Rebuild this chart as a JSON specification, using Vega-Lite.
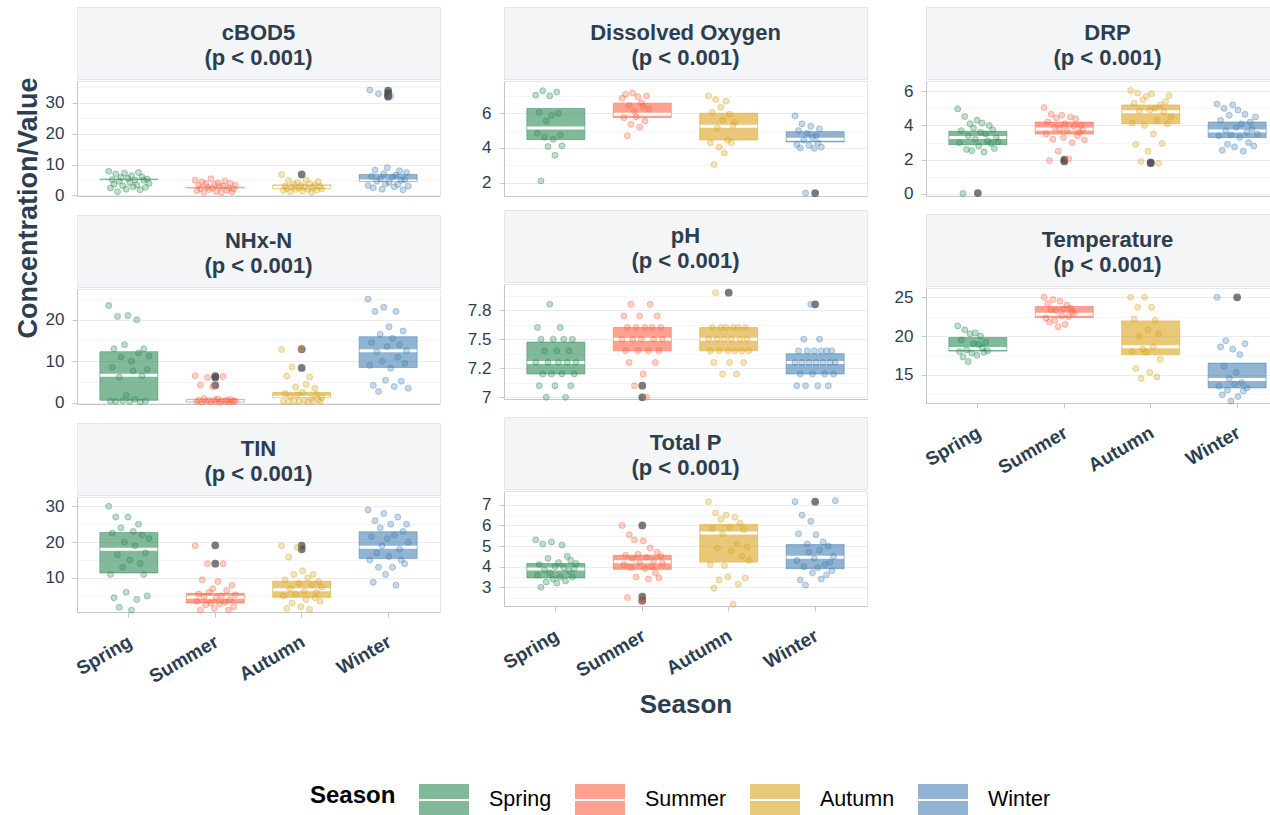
{
"$schema": "https://vega.github.io/schema/vega-lite/v6.json",
"background": "white",
"padding": {"left": 14, "top": 6, "right": 0, "bottom": 0},
"datasets": {
"strips": [
{"p":"cBOD5","t":"cBOD5\n(p < 0.001)"},{"p":"DO","t":"Dissolved Oxygen\n(p < 0.001)"},{"p":"DRP","t":"DRP\n(p < 0.001)"},{"p":"NHx-N","t":"NHx-N\n(p < 0.001)"},{"p":"pH","t":"pH\n(p < 0.001)"},{"p":"Temp","t":"Temperature\n(p < 0.001)"},{"p":"TIN","t":"TIN\n(p < 0.001)"},{"p":"TP","t":"Total P\n(p < 0.001)"}
],
"box": [
{"p":"cBOD5","s":"Spring","q1":5.1,"md":5.2,"q3":5.3},{"p":"cBOD5","s":"Summer","q1":2.4,"md":2.5,"q3":2.6},{"p":"cBOD5","s":"Autumn","q1":2.2,"md":2.6,"q3":3.4},{"p":"cBOD5","s":"Winter","q1":4.5,"md":4.7,"q3":6.8},
{"p":"DO","s":"Spring","q1":4.48,"md":5.15,"q3":6.28},{"p":"DO","s":"Summer","q1":5.75,"md":5.95,"q3":6.58},{"p":"DO","s":"Autumn","q1":4.46,"md":5.25,"q3":6.0},{"p":"DO","s":"Winter","q1":4.35,"md":4.5,"q3":4.94},
{"p":"DRP","s":"Spring","q1":2.88,"md":3.3,"q3":3.66},{"p":"DRP","s":"Summer","q1":3.5,"md":3.8,"q3":4.2},{"p":"DRP","s":"Autumn","q1":4.1,"md":4.8,"q3":5.2},{"p":"DRP","s":"Winter","q1":3.3,"md":3.68,"q3":4.2},
{"p":"NHx-N","s":"Spring","q1":0.6,"md":6.6,"q3":12.3},{"p":"NHx-N","s":"Summer","q1":0.2,"md":0.4,"q3":0.8},{"p":"NHx-N","s":"Autumn","q1":1.2,"md":1.3,"q3":2.5},{"p":"NHx-N","s":"Winter","q1":8.5,"md":12.5,"q3":15.9},
{"p":"pH","s":"Spring","q1":7.2,"md":7.3,"q3":7.475},{"p":"pH","s":"Summer","q1":7.4,"md":7.5,"q3":7.6},{"p":"pH","s":"Autumn","q1":7.4,"md":7.5,"q3":7.6},{"p":"pH","s":"Winter","q1":7.2,"md":7.3,"q3":7.375},
{"p":"Temp","s":"Spring","q1":18.05,"md":18.4,"q3":19.8},{"p":"Temp","s":"Summer","q1":22.4,"md":22.8,"q3":23.8},{"p":"Temp","s":"Autumn","q1":17.6,"md":18.6,"q3":21.95},{"p":"Temp","s":"Winter","q1":13.3,"md":14.4,"q3":16.5},
{"p":"TIN","s":"Spring","q1":11.4,"md":18.0,"q3":22.7},{"p":"TIN","s":"Summer","q1":3.0,"md":4.6,"q3":5.7},{"p":"TIN","s":"Autumn","q1":4.6,"md":6.7,"q3":9.1},{"p":"TIN","s":"Winter","q1":15.4,"md":18.6,"q3":22.9},
{"p":"TP","s":"Spring","q1":3.45,"md":3.88,"q3":4.15},{"p":"TP","s":"Summer","q1":3.87,"md":4.24,"q3":4.55},{"p":"TP","s":"Autumn","q1":4.22,"md":5.63,"q3":6.05},{"p":"TP","s":"Winter","q1":3.9,"md":4.45,"q3":5.07}
],
"out": [
{"p":"cBOD5","s":"Autumn","v":6.8},{"p":"cBOD5","s":"Winter","v":34.0},{"p":"cBOD5","s":"Winter","v":33.2},{"p":"cBOD5","s":"Winter","v":32.4},{"p":"cBOD5","s":"Winter","v":32.0},
{"p":"DO","s":"Winter","v":1.4},
{"p":"DRP","s":"Spring","v":0.05},{"p":"DRP","s":"Summer","v":2.0},{"p":"DRP","s":"Summer","v":1.9},{"p":"DRP","s":"Autumn","v":1.85},{"p":"DRP","s":"Autumn","v":1.8},
{"p":"NHx-N","s":"Summer","v":6.4},{"p":"NHx-N","s":"Summer","v":6.1},{"p":"NHx-N","s":"Summer","v":4.2},{"p":"NHx-N","s":"Autumn","v":12.9},{"p":"NHx-N","s":"Autumn","v":8.4},
{"p":"pH","s":"Summer","v":7.1},{"p":"pH","s":"Summer","v":7.0},{"p":"pH","s":"Autumn","v":7.9},{"p":"pH","s":"Winter","v":7.8},
{"p":"Temp","s":"Winter","v":25.0},
{"p":"TIN","s":"Summer","v":19.1},{"p":"TIN","s":"Summer","v":14.0},{"p":"TIN","s":"Autumn","v":19.0},{"p":"TIN","s":"Autumn","v":18.0},
{"p":"TP","s":"Summer","v":6.0},{"p":"TP","s":"Summer","v":2.55},{"p":"TP","s":"Summer","v":2.35},{"p":"TP","s":"Winter","v":7.15}
],
"pts": [
{"p":"cBOD5","s":"Spring","v":7.8},{"p":"cBOD5","s":"Spring","v":2.4},{"p":"cBOD5","s":"Spring","v":5.1},{"p":"cBOD5","s":"Spring","v":3.6},{"p":"cBOD5","s":"Spring","v":6.9},{"p":"cBOD5","s":"Spring","v":1.2},{"p":"cBOD5","s":"Spring","v":4.6},{"p":"cBOD5","s":"Spring","v":5.8},{"p":"cBOD5","s":"Spring","v":3.1},{"p":"cBOD5","s":"Spring","v":7.2},{"p":"cBOD5","s":"Spring","v":2.0},{"p":"cBOD5","s":"Spring","v":5.5},{"p":"cBOD5","s":"Spring","v":4.2},{"p":"cBOD5","s":"Spring","v":6.4},{"p":"cBOD5","s":"Spring","v":2.8},{"p":"cBOD5","s":"Spring","v":5.0},{"p":"cBOD5","s":"Spring","v":3.4},{"p":"cBOD5","s":"Spring","v":7.4},{"p":"cBOD5","s":"Spring","v":1.8},{"p":"cBOD5","s":"Spring","v":6.0},{"p":"cBOD5","s":"Spring","v":4.9},{"p":"cBOD5","s":"Spring","v":2.6},{"p":"cBOD5","s":"Spring","v":5.3},{"p":"cBOD5","s":"Spring","v":3.9},
{"p":"cBOD5","s":"Summer","v":4.9},{"p":"cBOD5","s":"Summer","v":1.5},{"p":"cBOD5","s":"Summer","v":3.2},{"p":"cBOD5","s":"Summer","v":2.2},{"p":"cBOD5","s":"Summer","v":4.4},{"p":"cBOD5","s":"Summer","v":1.0},{"p":"cBOD5","s":"Summer","v":3.8},{"p":"cBOD5","s":"Summer","v":2.7},{"p":"cBOD5","s":"Summer","v":1.9},{"p":"cBOD5","s":"Summer","v":5.4},{"p":"cBOD5","s":"Summer","v":2.4},{"p":"cBOD5","s":"Summer","v":3.5},{"p":"cBOD5","s":"Summer","v":1.3},{"p":"cBOD5","s":"Summer","v":4.1},{"p":"cBOD5","s":"Summer","v":2.9},{"p":"cBOD5","s":"Summer","v":0.9},{"p":"cBOD5","s":"Summer","v":3.0},{"p":"cBOD5","s":"Summer","v":4.7},{"p":"cBOD5","s":"Summer","v":1.7},{"p":"cBOD5","s":"Summer","v":2.5},{"p":"cBOD5","s":"Summer","v":3.9},{"p":"cBOD5","s":"Summer","v":1.1},{"p":"cBOD5","s":"Summer","v":2.1},{"p":"cBOD5","s":"Summer","v":3.3},
{"p":"cBOD5","s":"Autumn","v":6.8},{"p":"cBOD5","s":"Autumn","v":1.6},{"p":"cBOD5","s":"Autumn","v":3.0},{"p":"cBOD5","s":"Autumn","v":2.2},{"p":"cBOD5","s":"Autumn","v":4.8},{"p":"cBOD5","s":"Autumn","v":1.2},{"p":"cBOD5","s":"Autumn","v":2.6},{"p":"cBOD5","s":"Autumn","v":3.5},{"p":"cBOD5","s":"Autumn","v":1.9},{"p":"cBOD5","s":"Autumn","v":4.2},{"p":"cBOD5","s":"Autumn","v":2.4},{"p":"cBOD5","s":"Autumn","v":3.2},{"p":"cBOD5","s":"Autumn","v":1.4},{"p":"cBOD5","s":"Autumn","v":2.8},{"p":"cBOD5","s":"Autumn","v":5.0},{"p":"cBOD5","s":"Autumn","v":2.0},{"p":"cBOD5","s":"Autumn","v":3.8},{"p":"cBOD5","s":"Autumn","v":1.0},{"p":"cBOD5","s":"Autumn","v":2.5},{"p":"cBOD5","s":"Autumn","v":3.3},{"p":"cBOD5","s":"Autumn","v":1.7},{"p":"cBOD5","s":"Autumn","v":4.5},{"p":"cBOD5","s":"Autumn","v":2.9},{"p":"cBOD5","s":"Autumn","v":2.1},
{"p":"cBOD5","s":"Winter","v":3.2},{"p":"cBOD5","s":"Winter","v":34.2},{"p":"cBOD5","s":"Winter","v":6.1},{"p":"cBOD5","s":"Winter","v":2.5},{"p":"cBOD5","s":"Winter","v":8.2},{"p":"cBOD5","s":"Winter","v":4.6},{"p":"cBOD5","s":"Winter","v":33.0},{"p":"cBOD5","s":"Winter","v":5.4},{"p":"cBOD5","s":"Winter","v":2.0},{"p":"cBOD5","s":"Winter","v":7.0},{"p":"cBOD5","s":"Winter","v":3.8},{"p":"cBOD5","s":"Winter","v":9.0},{"p":"cBOD5","s":"Winter","v":4.2},{"p":"cBOD5","s":"Winter","v":32.3},{"p":"cBOD5","s":"Winter","v":5.9},{"p":"cBOD5","s":"Winter","v":2.8},{"p":"cBOD5","s":"Winter","v":6.6},{"p":"cBOD5","s":"Winter","v":3.5},{"p":"cBOD5","s":"Winter","v":8.0},{"p":"cBOD5","s":"Winter","v":4.9},{"p":"cBOD5","s":"Winter","v":1.8},{"p":"cBOD5","s":"Winter","v":5.1},{"p":"cBOD5","s":"Winter","v":7.4},{"p":"cBOD5","s":"Winter","v":3.0},
{"p":"DO","s":"Spring","v":7.05},{"p":"DO","s":"Spring","v":4.85},{"p":"DO","s":"Spring","v":6.05},{"p":"DO","s":"Spring","v":2.1},{"p":"DO","s":"Spring","v":7.3},{"p":"DO","s":"Spring","v":4.62},{"p":"DO","s":"Spring","v":5.55},{"p":"DO","s":"Spring","v":4.08},{"p":"DO","s":"Spring","v":7.0},{"p":"DO","s":"Spring","v":5.87},{"p":"DO","s":"Spring","v":4.5},{"p":"DO","s":"Spring","v":3.58},{"p":"DO","s":"Spring","v":7.22},{"p":"DO","s":"Spring","v":6.0},{"p":"DO","s":"Spring","v":4.75},{"p":"DO","s":"Spring","v":4.12},
{"p":"DO","s":"Summer","v":6.86},{"p":"DO","s":"Summer","v":5.75},{"p":"DO","s":"Summer","v":7.1},{"p":"DO","s":"Summer","v":4.7},{"p":"DO","s":"Summer","v":6.45},{"p":"DO","s":"Summer","v":5.36},{"p":"DO","s":"Summer","v":7.17},{"p":"DO","s":"Summer","v":6.1},{"p":"DO","s":"Summer","v":5.8},{"p":"DO","s":"Summer","v":6.95},{"p":"DO","s":"Summer","v":5.2},{"p":"DO","s":"Summer","v":6.6},{"p":"DO","s":"Summer","v":6.4},{"p":"DO","s":"Summer","v":5.55},{"p":"DO","s":"Summer","v":7.0},{"p":"DO","s":"Summer","v":6.25},
{"p":"DO","s":"Autumn","v":7.0},{"p":"DO","s":"Autumn","v":4.3},{"p":"DO","s":"Autumn","v":6.05},{"p":"DO","s":"Autumn","v":3.04},{"p":"DO","s":"Autumn","v":6.79},{"p":"DO","s":"Autumn","v":5.15},{"p":"DO","s":"Autumn","v":4.04},{"p":"DO","s":"Autumn","v":6.35},{"p":"DO","s":"Autumn","v":5.6},{"p":"DO","s":"Autumn","v":3.71},{"p":"DO","s":"Autumn","v":6.7},{"p":"DO","s":"Autumn","v":4.45},{"p":"DO","s":"Autumn","v":5.95},{"p":"DO","s":"Autumn","v":4.3},{"p":"DO","s":"Autumn","v":5.3},{"p":"DO","s":"Autumn","v":5.5},
{"p":"DO","s":"Winter","v":5.85},{"p":"DO","s":"Winter","v":4.2},{"p":"DO","s":"Winter","v":5.0},{"p":"DO","s":"Winter","v":4.0},{"p":"DO","s":"Winter","v":5.39},{"p":"DO","s":"Winter","v":4.45},{"p":"DO","s":"Winter","v":1.4},{"p":"DO","s":"Winter","v":4.85},{"p":"DO","s":"Winter","v":4.15},{"p":"DO","s":"Winter","v":5.25},{"p":"DO","s":"Winter","v":4.6},{"p":"DO","s":"Winter","v":3.98},{"p":"DO","s":"Winter","v":4.7},{"p":"DO","s":"Winter","v":4.3},{"p":"DO","s":"Winter","v":5.1},{"p":"DO","s":"Winter","v":4.05},
{"p":"DRP","s":"Spring","v":4.97},{"p":"DRP","s":"Spring","v":3.0},{"p":"DRP","s":"Spring","v":3.7},{"p":"DRP","s":"Spring","v":0.03},{"p":"DRP","s":"Spring","v":4.52},{"p":"DRP","s":"Spring","v":2.6},{"p":"DRP","s":"Spring","v":3.4},{"p":"DRP","s":"Spring","v":4.1},{"p":"DRP","s":"Spring","v":2.53},{"p":"DRP","s":"Spring","v":3.85},{"p":"DRP","s":"Spring","v":3.2},{"p":"DRP","s":"Spring","v":4.3},{"p":"DRP","s":"Spring","v":2.8},{"p":"DRP","s":"Spring","v":3.6},{"p":"DRP","s":"Spring","v":4.15},{"p":"DRP","s":"Spring","v":2.45},{"p":"DRP","s":"Spring","v":3.5},{"p":"DRP","s":"Spring","v":3.1},{"p":"DRP","s":"Spring","v":4.0},{"p":"DRP","s":"Spring","v":2.95},{"p":"DRP","s":"Spring","v":3.75},{"p":"DRP","s":"Spring","v":2.65},{"p":"DRP","s":"Spring","v":3.3},{"p":"DRP","s":"Spring","v":3.05},
{"p":"DRP","s":"Summer","v":5.05},{"p":"DRP","s":"Summer","v":3.5},{"p":"DRP","s":"Summer","v":4.2},{"p":"DRP","s":"Summer","v":1.95},{"p":"DRP","s":"Summer","v":4.65},{"p":"DRP","s":"Summer","v":3.2},{"p":"DRP","s":"Summer","v":3.9},{"p":"DRP","s":"Summer","v":4.45},{"p":"DRP","s":"Summer","v":2.5},{"p":"DRP","s":"Summer","v":3.8},{"p":"DRP","s":"Summer","v":4.6},{"p":"DRP","s":"Summer","v":3.3},{"p":"DRP","s":"Summer","v":4.1},{"p":"DRP","s":"Summer","v":3.7},{"p":"DRP","s":"Summer","v":2.05},{"p":"DRP","s":"Summer","v":4.5},{"p":"DRP","s":"Summer","v":3.0},{"p":"DRP","s":"Summer","v":3.95},{"p":"DRP","s":"Summer","v":4.4},{"p":"DRP","s":"Summer","v":3.4},{"p":"DRP","s":"Summer","v":3.6},{"p":"DRP","s":"Summer","v":4.0},{"p":"DRP","s":"Summer","v":3.75},{"p":"DRP","s":"Summer","v":3.15},
{"p":"DRP","s":"Autumn","v":6.05},{"p":"DRP","s":"Autumn","v":4.15},{"p":"DRP","s":"Autumn","v":5.3},{"p":"DRP","s":"Autumn","v":2.9},{"p":"DRP","s":"Autumn","v":5.9},{"p":"DRP","s":"Autumn","v":4.85},{"p":"DRP","s":"Autumn","v":1.9},{"p":"DRP","s":"Autumn","v":5.5},{"p":"DRP","s":"Autumn","v":4.0},{"p":"DRP","s":"Autumn","v":5.7},{"p":"DRP","s":"Autumn","v":2.5},{"p":"DRP","s":"Autumn","v":4.9},{"p":"DRP","s":"Autumn","v":5.85},{"p":"DRP","s":"Autumn","v":3.5},{"p":"DRP","s":"Autumn","v":5.0},{"p":"DRP","s":"Autumn","v":4.3},{"p":"DRP","s":"Autumn","v":1.8},{"p":"DRP","s":"Autumn","v":5.2},{"p":"DRP","s":"Autumn","v":2.95},{"p":"DRP","s":"Autumn","v":4.8},{"p":"DRP","s":"Autumn","v":5.4},{"p":"DRP","s":"Autumn","v":4.1},{"p":"DRP","s":"Autumn","v":5.75},{"p":"DRP","s":"Autumn","v":4.5},
{"p":"DRP","s":"Winter","v":5.25},{"p":"DRP","s":"Winter","v":3.4},{"p":"DRP","s":"Winter","v":4.3},{"p":"DRP","s":"Winter","v":2.55},{"p":"DRP","s":"Winter","v":5.0},{"p":"DRP","s":"Winter","v":3.7},{"p":"DRP","s":"Winter","v":2.9},{"p":"DRP","s":"Winter","v":4.6},{"p":"DRP","s":"Winter","v":3.45},{"p":"DRP","s":"Winter","v":5.2},{"p":"DRP","s":"Winter","v":2.75},{"p":"DRP","s":"Winter","v":3.9},{"p":"DRP","s":"Winter","v":4.9},{"p":"DRP","s":"Winter","v":3.3},{"p":"DRP","s":"Winter","v":4.1},{"p":"DRP","s":"Winter","v":2.5},{"p":"DRP","s":"Winter","v":4.65},{"p":"DRP","s":"Winter","v":3.6},{"p":"DRP","s":"Winter","v":3.0},{"p":"DRP","s":"Winter","v":4.2},{"p":"DRP","s":"Winter","v":3.8},{"p":"DRP","s":"Winter","v":2.8},{"p":"DRP","s":"Winter","v":4.5},{"p":"DRP","s":"Winter","v":3.5},
{"p":"NHx-N","s":"Spring","v":23.4},{"p":"NHx-N","s":"Spring","v":0.4},{"p":"NHx-N","s":"Spring","v":8.5},{"p":"NHx-N","s":"Spring","v":13.0},{"p":"NHx-N","s":"Spring","v":0.3},{"p":"NHx-N","s":"Spring","v":20.8},{"p":"NHx-N","s":"Spring","v":6.2},{"p":"NHx-N","s":"Spring","v":11.0},{"p":"NHx-N","s":"Spring","v":0.5},{"p":"NHx-N","s":"Spring","v":14.0},{"p":"NHx-N","s":"Spring","v":1.8},{"p":"NHx-N","s":"Spring","v":21.0},{"p":"NHx-N","s":"Spring","v":0.3},{"p":"NHx-N","s":"Spring","v":10.0},{"p":"NHx-N","s":"Spring","v":7.7},{"p":"NHx-N","s":"Spring","v":0.8},{"p":"NHx-N","s":"Spring","v":20.0},{"p":"NHx-N","s":"Spring","v":12.0},{"p":"NHx-N","s":"Spring","v":0.2},{"p":"NHx-N","s":"Spring","v":6.5},{"p":"NHx-N","s":"Spring","v":13.0},{"p":"NHx-N","s":"Spring","v":0.4},{"p":"NHx-N","s":"Spring","v":8.0},{"p":"NHx-N","s":"Spring","v":11.2},
{"p":"NHx-N","s":"Summer","v":6.5},{"p":"NHx-N","s":"Summer","v":0.3},{"p":"NHx-N","s":"Summer","v":0.6},{"p":"NHx-N","s":"Summer","v":4.3},{"p":"NHx-N","s":"Summer","v":0.2},{"p":"NHx-N","s":"Summer","v":1.0},{"p":"NHx-N","s":"Summer","v":0.4},{"p":"NHx-N","s":"Summer","v":6.1},{"p":"NHx-N","s":"Summer","v":0.5},{"p":"NHx-N","s":"Summer","v":0.2},{"p":"NHx-N","s":"Summer","v":3.9},{"p":"NHx-N","s":"Summer","v":0.7},{"p":"NHx-N","s":"Summer","v":0.3},{"p":"NHx-N","s":"Summer","v":0.9},{"p":"NHx-N","s":"Summer","v":0.1},{"p":"NHx-N","s":"Summer","v":0.5},{"p":"NHx-N","s":"Summer","v":6.3},{"p":"NHx-N","s":"Summer","v":0.4},{"p":"NHx-N","s":"Summer","v":0.6},{"p":"NHx-N","s":"Summer","v":0.2},{"p":"NHx-N","s":"Summer","v":0.8},{"p":"NHx-N","s":"Summer","v":0.3},{"p":"NHx-N","s":"Summer","v":0.5},{"p":"NHx-N","s":"Summer","v":0.4},
{"p":"NHx-N","s":"Autumn","v":12.8},{"p":"NHx-N","s":"Autumn","v":0.3},{"p":"NHx-N","s":"Autumn","v":2.2},{"p":"NHx-N","s":"Autumn","v":6.4},{"p":"NHx-N","s":"Autumn","v":0.2},{"p":"NHx-N","s":"Autumn","v":1.5},{"p":"NHx-N","s":"Autumn","v":8.6},{"p":"NHx-N","s":"Autumn","v":0.4},{"p":"NHx-N","s":"Autumn","v":3.8},{"p":"NHx-N","s":"Autumn","v":1.8},{"p":"NHx-N","s":"Autumn","v":0.3},{"p":"NHx-N","s":"Autumn","v":13.0},{"p":"NHx-N","s":"Autumn","v":2.5},{"p":"NHx-N","s":"Autumn","v":0.6},{"p":"NHx-N","s":"Autumn","v":4.4},{"p":"NHx-N","s":"Autumn","v":0.2},{"p":"NHx-N","s":"Autumn","v":6.2},{"p":"NHx-N","s":"Autumn","v":1.0},{"p":"NHx-N","s":"Autumn","v":0.4},{"p":"NHx-N","s":"Autumn","v":3.5},{"p":"NHx-N","s":"Autumn","v":2.0},{"p":"NHx-N","s":"Autumn","v":0.8},{"p":"NHx-N","s":"Autumn","v":0.3},{"p":"NHx-N","s":"Autumn","v":1.2},
{"p":"NHx-N","s":"Winter","v":25.0},{"p":"NHx-N","s":"Winter","v":9.0},{"p":"NHx-N","s":"Winter","v":14.5},{"p":"NHx-N","s":"Winter","v":4.2},{"p":"NHx-N","s":"Winter","v":22.0},{"p":"NHx-N","s":"Winter","v":12.3},{"p":"NHx-N","s":"Winter","v":2.7},{"p":"NHx-N","s":"Winter","v":16.5},{"p":"NHx-N","s":"Winter","v":10.0},{"p":"NHx-N","s":"Winter","v":23.0},{"p":"NHx-N","s":"Winter","v":5.4},{"p":"NHx-N","s":"Winter","v":13.5},{"p":"NHx-N","s":"Winter","v":18.3},{"p":"NHx-N","s":"Winter","v":8.3},{"p":"NHx-N","s":"Winter","v":15.5},{"p":"NHx-N","s":"Winter","v":3.9},{"p":"NHx-N","s":"Winter","v":22.0},{"p":"NHx-N","s":"Winter","v":11.0},{"p":"NHx-N","s":"Winter","v":14.0},{"p":"NHx-N","s":"Winter","v":5.2},{"p":"NHx-N","s":"Winter","v":17.3},{"p":"NHx-N","s":"Winter","v":9.5},{"p":"NHx-N","s":"Winter","v":12.5},{"p":"NHx-N","s":"Winter","v":3.5},
{"p":"pH","s":"Spring","v":7.3},{"p":"pH","s":"Spring","v":7.6},{"p":"pH","s":"Spring","v":7.1},{"p":"pH","s":"Spring","v":7.5},{"p":"pH","s":"Spring","v":7.2},{"p":"pH","s":"Spring","v":7.4},{"p":"pH","s":"Spring","v":7.0},{"p":"pH","s":"Spring","v":7.3},{"p":"pH","s":"Spring","v":7.8},{"p":"pH","s":"Spring","v":7.2},{"p":"pH","s":"Spring","v":7.5},{"p":"pH","s":"Spring","v":7.1},{"p":"pH","s":"Spring","v":7.4},{"p":"pH","s":"Spring","v":7.3},{"p":"pH","s":"Spring","v":7.6},{"p":"pH","s":"Spring","v":7.2},{"p":"pH","s":"Spring","v":7.5},{"p":"pH","s":"Spring","v":7.0},{"p":"pH","s":"Spring","v":7.3},{"p":"pH","s":"Spring","v":7.4},{"p":"pH","s":"Spring","v":7.1},{"p":"pH","s":"Spring","v":7.5},{"p":"pH","s":"Spring","v":7.2},{"p":"pH","s":"Spring","v":7.3},
{"p":"pH","s":"Summer","v":7.5},{"p":"pH","s":"Summer","v":7.7},{"p":"pH","s":"Summer","v":7.4},{"p":"pH","s":"Summer","v":7.6},{"p":"pH","s":"Summer","v":7.3},{"p":"pH","s":"Summer","v":7.8},{"p":"pH","s":"Summer","v":7.5},{"p":"pH","s":"Summer","v":7.1},{"p":"pH","s":"Summer","v":7.6},{"p":"pH","s":"Summer","v":7.4},{"p":"pH","s":"Summer","v":7.7},{"p":"pH","s":"Summer","v":7.5},{"p":"pH","s":"Summer","v":7.2},{"p":"pH","s":"Summer","v":7.6},{"p":"pH","s":"Summer","v":7.0},{"p":"pH","s":"Summer","v":7.4},{"p":"pH","s":"Summer","v":7.8},{"p":"pH","s":"Summer","v":7.6},{"p":"pH","s":"Summer","v":7.5},{"p":"pH","s":"Summer","v":7.3},{"p":"pH","s":"Summer","v":7.7},{"p":"pH","s":"Summer","v":7.4},{"p":"pH","s":"Summer","v":7.6},{"p":"pH","s":"Summer","v":7.5},
{"p":"pH","s":"Autumn","v":7.5},{"p":"pH","s":"Autumn","v":7.4},{"p":"pH","s":"Autumn","v":7.6},{"p":"pH","s":"Autumn","v":7.3},{"p":"pH","s":"Autumn","v":7.9},{"p":"pH","s":"Autumn","v":7.5},{"p":"pH","s":"Autumn","v":7.4},{"p":"pH","s":"Autumn","v":7.6},{"p":"pH","s":"Autumn","v":7.2},{"p":"pH","s":"Autumn","v":7.5},{"p":"pH","s":"Autumn","v":7.6},{"p":"pH","s":"Autumn","v":7.4},{"p":"pH","s":"Autumn","v":7.3},{"p":"pH","s":"Autumn","v":7.5},{"p":"pH","s":"Autumn","v":7.6},{"p":"pH","s":"Autumn","v":7.4},{"p":"pH","s":"Autumn","v":7.2},{"p":"pH","s":"Autumn","v":7.6},{"p":"pH","s":"Autumn","v":7.5},{"p":"pH","s":"Autumn","v":7.4},{"p":"pH","s":"Autumn","v":7.3},{"p":"pH","s":"Autumn","v":7.6},{"p":"pH","s":"Autumn","v":7.5},{"p":"pH","s":"Autumn","v":7.4},
{"p":"pH","s":"Winter","v":7.3},{"p":"pH","s":"Winter","v":7.1},{"p":"pH","s":"Winter","v":7.4},{"p":"pH","s":"Winter","v":7.2},{"p":"pH","s":"Winter","v":7.3},{"p":"pH","s":"Winter","v":7.5},{"p":"pH","s":"Winter","v":7.1},{"p":"pH","s":"Winter","v":7.4},{"p":"pH","s":"Winter","v":7.3},{"p":"pH","s":"Winter","v":7.8},{"p":"pH","s":"Winter","v":7.2},{"p":"pH","s":"Winter","v":7.4},{"p":"pH","s":"Winter","v":7.3},{"p":"pH","s":"Winter","v":7.1},{"p":"pH","s":"Winter","v":7.5},{"p":"pH","s":"Winter","v":7.4},{"p":"pH","s":"Winter","v":7.3},{"p":"pH","s":"Winter","v":7.2},{"p":"pH","s":"Winter","v":7.4},{"p":"pH","s":"Winter","v":7.1},{"p":"pH","s":"Winter","v":7.3},{"p":"pH","s":"Winter","v":7.4},{"p":"pH","s":"Winter","v":7.2},{"p":"pH","s":"Winter","v":7.3},
{"p":"Temp","s":"Spring","v":21.3},{"p":"Temp","s":"Spring","v":18.0},{"p":"Temp","s":"Spring","v":19.5},{"p":"Temp","s":"Spring","v":17.3},{"p":"Temp","s":"Spring","v":20.8},{"p":"Temp","s":"Spring","v":18.2},{"p":"Temp","s":"Spring","v":16.7},{"p":"Temp","s":"Spring","v":20.3},{"p":"Temp","s":"Spring","v":17.8},{"p":"Temp","s":"Spring","v":19.0},{"p":"Temp","s":"Spring","v":20.4},{"p":"Temp","s":"Spring","v":17.5},{"p":"Temp","s":"Spring","v":18.9},{"p":"Temp","s":"Spring","v":20.0},{"p":"Temp","s":"Spring","v":18.5},{"p":"Temp","s":"Spring","v":17.9},{"p":"Temp","s":"Spring","v":19.2},{"p":"Temp","s":"Spring","v":18.1},
{"p":"Temp","s":"Summer","v":25.0},{"p":"Temp","s":"Summer","v":22.3},{"p":"Temp","s":"Summer","v":24.2},{"p":"Temp","s":"Summer","v":21.8},{"p":"Temp","s":"Summer","v":23.4},{"p":"Temp","s":"Summer","v":24.7},{"p":"Temp","s":"Summer","v":22.0},{"p":"Temp","s":"Summer","v":23.3},{"p":"Temp","s":"Summer","v":21.2},{"p":"Temp","s":"Summer","v":24.5},{"p":"Temp","s":"Summer","v":22.6},{"p":"Temp","s":"Summer","v":23.5},{"p":"Temp","s":"Summer","v":21.5},{"p":"Temp","s":"Summer","v":24.0},{"p":"Temp","s":"Summer","v":22.5},{"p":"Temp","s":"Summer","v":23.6},{"p":"Temp","s":"Summer","v":23.2},{"p":"Temp","s":"Summer","v":22.9},
{"p":"Temp","s":"Autumn","v":25.0},{"p":"Temp","s":"Autumn","v":18.0},{"p":"Temp","s":"Autumn","v":22.2},{"p":"Temp","s":"Autumn","v":15.8},{"p":"Temp","s":"Autumn","v":23.7},{"p":"Temp","s":"Autumn","v":20.0},{"p":"Temp","s":"Autumn","v":14.5},{"p":"Temp","s":"Autumn","v":18.3},{"p":"Temp","s":"Autumn","v":25.0},{"p":"Temp","s":"Autumn","v":17.9},{"p":"Temp","s":"Autumn","v":20.8},{"p":"Temp","s":"Autumn","v":15.3},{"p":"Temp","s":"Autumn","v":23.7},{"p":"Temp","s":"Autumn","v":18.6},{"p":"Temp","s":"Autumn","v":22.0},{"p":"Temp","s":"Autumn","v":14.7},{"p":"Temp","s":"Autumn","v":20.3},{"p":"Temp","s":"Autumn","v":17.0},
{"p":"Temp","s":"Winter","v":25.0},{"p":"Temp","s":"Winter","v":13.5},{"p":"Temp","s":"Winter","v":18.6},{"p":"Temp","s":"Winter","v":12.4},{"p":"Temp","s":"Winter","v":16.1},{"p":"Temp","s":"Winter","v":19.4},{"p":"Temp","s":"Winter","v":13.0},{"p":"Temp","s":"Winter","v":14.5},{"p":"Temp","s":"Winter","v":11.6},{"p":"Temp","s":"Winter","v":18.3},{"p":"Temp","s":"Winter","v":13.8},{"p":"Temp","s":"Winter","v":15.3},{"p":"Temp","s":"Winter","v":12.2},{"p":"Temp","s":"Winter","v":17.6},{"p":"Temp","s":"Winter","v":14.0},{"p":"Temp","s":"Winter","v":12.9},{"p":"Temp","s":"Winter","v":19.0},{"p":"Temp","s":"Winter","v":13.3},
{"p":"TIN","s":"Spring","v":30.0},{"p":"TIN","s":"Spring","v":11.0},{"p":"TIN","s":"Spring","v":22.5},{"p":"TIN","s":"Spring","v":4.5},{"p":"TIN","s":"Spring","v":27.0},{"p":"TIN","s":"Spring","v":16.5},{"p":"TIN","s":"Spring","v":1.8},{"p":"TIN","s":"Spring","v":24.0},{"p":"TIN","s":"Spring","v":13.0},{"p":"TIN","s":"Spring","v":20.0},{"p":"TIN","s":"Spring","v":6.0},{"p":"TIN","s":"Spring","v":27.0},{"p":"TIN","s":"Spring","v":15.0},{"p":"TIN","s":"Spring","v":1.0},{"p":"TIN","s":"Spring","v":23.0},{"p":"TIN","s":"Spring","v":19.0},{"p":"TIN","s":"Spring","v":4.0},{"p":"TIN","s":"Spring","v":25.0},{"p":"TIN","s":"Spring","v":14.0},{"p":"TIN","s":"Spring","v":22.0},{"p":"TIN","s":"Spring","v":11.0},{"p":"TIN","s":"Spring","v":17.0},{"p":"TIN","s":"Spring","v":5.0},{"p":"TIN","s":"Spring","v":21.0},
{"p":"TIN","s":"Summer","v":19.0},{"p":"TIN","s":"Summer","v":3.5},{"p":"TIN","s":"Summer","v":5.5},{"p":"TIN","s":"Summer","v":1.0},{"p":"TIN","s":"Summer","v":9.5},{"p":"TIN","s":"Summer","v":4.8},{"p":"TIN","s":"Summer","v":2.5},{"p":"TIN","s":"Summer","v":14.0},{"p":"TIN","s":"Summer","v":6.0},{"p":"TIN","s":"Summer","v":3.0},{"p":"TIN","s":"Summer","v":7.0},{"p":"TIN","s":"Summer","v":1.5},{"p":"TIN","s":"Summer","v":4.5},{"p":"TIN","s":"Summer","v":9.0},{"p":"TIN","s":"Summer","v":2.8},{"p":"TIN","s":"Summer","v":5.0},{"p":"TIN","s":"Summer","v":14.0},{"p":"TIN","s":"Summer","v":3.2},{"p":"TIN","s":"Summer","v":6.5},{"p":"TIN","s":"Summer","v":1.0},{"p":"TIN","s":"Summer","v":4.0},{"p":"TIN","s":"Summer","v":8.0},{"p":"TIN","s":"Summer","v":2.0},{"p":"TIN","s":"Summer","v":5.3},
{"p":"TIN","s":"Autumn","v":19.0},{"p":"TIN","s":"Autumn","v":5.0},{"p":"TIN","s":"Autumn","v":9.5},{"p":"TIN","s":"Autumn","v":1.5},{"p":"TIN","s":"Autumn","v":15.8},{"p":"TIN","s":"Autumn","v":7.0},{"p":"TIN","s":"Autumn","v":3.0},{"p":"TIN","s":"Autumn","v":11.0},{"p":"TIN","s":"Autumn","v":5.5},{"p":"TIN","s":"Autumn","v":18.5},{"p":"TIN","s":"Autumn","v":8.5},{"p":"TIN","s":"Autumn","v":2.0},{"p":"TIN","s":"Autumn","v":12.0},{"p":"TIN","s":"Autumn","v":6.3},{"p":"TIN","s":"Autumn","v":4.0},{"p":"TIN","s":"Autumn","v":10.0},{"p":"TIN","s":"Autumn","v":1.2},{"p":"TIN","s":"Autumn","v":8.0},{"p":"TIN","s":"Autumn","v":11.0},{"p":"TIN","s":"Autumn","v":4.5},{"p":"TIN","s":"Autumn","v":6.0},{"p":"TIN","s":"Autumn","v":9.0},{"p":"TIN","s":"Autumn","v":3.5},{"p":"TIN","s":"Autumn","v":7.5},
{"p":"TIN","s":"Winter","v":29.0},{"p":"TIN","s":"Winter","v":15.0},{"p":"TIN","s":"Winter","v":21.5},{"p":"TIN","s":"Winter","v":8.8},{"p":"TIN","s":"Winter","v":26.0},{"p":"TIN","s":"Winter","v":17.0},{"p":"TIN","s":"Winter","v":13.0},{"p":"TIN","s":"Winter","v":24.0},{"p":"TIN","s":"Winter","v":19.0},{"p":"TIN","s":"Winter","v":28.0},{"p":"TIN","s":"Winter","v":11.0},{"p":"TIN","s":"Winter","v":21.0},{"p":"TIN","s":"Winter","v":16.0},{"p":"TIN","s":"Winter","v":25.0},{"p":"TIN","s":"Winter","v":13.0},{"p":"TIN","s":"Winter","v":22.0},{"p":"TIN","s":"Winter","v":8.0},{"p":"TIN","s":"Winter","v":27.0},{"p":"TIN","s":"Winter","v":18.0},{"p":"TIN","s":"Winter","v":15.0},{"p":"TIN","s":"Winter","v":23.0},{"p":"TIN","s":"Winter","v":14.0},{"p":"TIN","s":"Winter","v":25.0},{"p":"TIN","s":"Winter","v":20.0},
{"p":"TP","s":"Spring","v":5.3},{"p":"TP","s":"Spring","v":3.6},{"p":"TP","s":"Spring","v":4.1},{"p":"TP","s":"Spring","v":3.0},{"p":"TP","s":"Spring","v":5.1},{"p":"TP","s":"Spring","v":3.85},{"p":"TP","s":"Spring","v":3.25},{"p":"TP","s":"Spring","v":4.4},{"p":"TP","s":"Spring","v":3.7},{"p":"TP","s":"Spring","v":5.2},{"p":"TP","s":"Spring","v":3.4},{"p":"TP","s":"Spring","v":4.0},{"p":"TP","s":"Spring","v":3.2},{"p":"TP","s":"Spring","v":4.2},{"p":"TP","s":"Spring","v":3.5},{"p":"TP","s":"Spring","v":5.05},{"p":"TP","s":"Spring","v":3.95},{"p":"TP","s":"Spring","v":3.3},{"p":"TP","s":"Spring","v":4.5},{"p":"TP","s":"Spring","v":3.8},{"p":"TP","s":"Spring","v":4.3},{"p":"TP","s":"Spring","v":3.5},{"p":"TP","s":"Spring","v":3.9},{"p":"TP","s":"Spring","v":4.15},
{"p":"TP","s":"Summer","v":6.0},{"p":"TP","s":"Summer","v":4.1},{"p":"TP","s":"Summer","v":4.55},{"p":"TP","s":"Summer","v":2.5},{"p":"TP","s":"Summer","v":5.55},{"p":"TP","s":"Summer","v":3.95},{"p":"TP","s":"Summer","v":4.4},{"p":"TP","s":"Summer","v":5.3},{"p":"TP","s":"Summer","v":3.5},{"p":"TP","s":"Summer","v":4.6},{"p":"TP","s":"Summer","v":4.2},{"p":"TP","s":"Summer","v":2.35},{"p":"TP","s":"Summer","v":5.25},{"p":"TP","s":"Summer","v":3.9},{"p":"TP","s":"Summer","v":4.45},{"p":"TP","s":"Summer","v":3.4},{"p":"TP","s":"Summer","v":4.9},{"p":"TP","s":"Summer","v":4.0},{"p":"TP","s":"Summer","v":4.3},{"p":"TP","s":"Summer","v":3.7},{"p":"TP","s":"Summer","v":4.7},{"p":"TP","s":"Summer","v":3.45},{"p":"TP","s":"Summer","v":4.5},{"p":"TP","s":"Summer","v":4.15},
{"p":"TP","s":"Autumn","v":7.16},{"p":"TP","s":"Autumn","v":4.1},{"p":"TP","s":"Autumn","v":5.85},{"p":"TP","s":"Autumn","v":2.95},{"p":"TP","s":"Autumn","v":6.6},{"p":"TP","s":"Autumn","v":4.9},{"p":"TP","s":"Autumn","v":3.35},{"p":"TP","s":"Autumn","v":6.3},{"p":"TP","s":"Autumn","v":5.6},{"p":"TP","s":"Autumn","v":4.05},{"p":"TP","s":"Autumn","v":6.5},{"p":"TP","s":"Autumn","v":3.5},{"p":"TP","s":"Autumn","v":5.9},{"p":"TP","s":"Autumn","v":4.75},{"p":"TP","s":"Autumn","v":2.18},{"p":"TP","s":"Autumn","v":6.4},{"p":"TP","s":"Autumn","v":5.1},{"p":"TP","s":"Autumn","v":3.15},{"p":"TP","s":"Autumn","v":6.1},{"p":"TP","s":"Autumn","v":4.5},{"p":"TP","s":"Autumn","v":5.8},{"p":"TP","s":"Autumn","v":3.45},{"p":"TP","s":"Autumn","v":4.95},{"p":"TP","s":"Autumn","v":4.3},
{"p":"TP","s":"Winter","v":7.15},{"p":"TP","s":"Winter","v":4.3},{"p":"TP","s":"Winter","v":5.6},{"p":"TP","s":"Winter","v":3.35},{"p":"TP","s":"Winter","v":6.5},{"p":"TP","s":"Winter","v":4.0},{"p":"TP","s":"Winter","v":3.1},{"p":"TP","s":"Winter","v":5.1},{"p":"TP","s":"Winter","v":4.7},{"p":"TP","s":"Winter","v":6.2},{"p":"TP","s":"Winter","v":3.7},{"p":"TP","s":"Winter","v":4.4},{"p":"TP","s":"Winter","v":5.55},{"p":"TP","s":"Winter","v":3.95},{"p":"TP","s":"Winter","v":4.8},{"p":"TP","s":"Winter","v":3.4},{"p":"TP","s":"Winter","v":5.2},{"p":"TP","s":"Winter","v":4.1},{"p":"TP","s":"Winter","v":3.6},{"p":"TP","s":"Winter","v":5.0},{"p":"TP","s":"Winter","v":4.2},{"p":"TP","s":"Winter","v":3.8},{"p":"TP","s":"Winter","v":4.5},{"p":"TP","s":"Winter","v":7.2}
]
},
"spacing": 1,
"hconcat": [
{"width": 24, "height": 402, "view": {"stroke": null},
 "data": {"values": [{"t": "Concentration/Value"}]},
 "mark": {"type": "text", "angle": 270, "fontSize": 27, "fontWeight": "bold", "color": "#2c3e50", "align": "center", "baseline": "middle"},
 "encoding": {"text": {"field": "t"}}},
{"spacing": 25, "hconcat": [
 {"spacing": 10, "vconcat": [
  {"spacing": 0, "vconcat": [
   {"width":363,"height":72,"view":{"fill":"#f4f5f7","stroke":"#e3e6e9"},"data":{"name":"strips"},"transform":[{"filter":"datum.p=='cBOD5'"}],"mark":{"type":"text","fontSize":22,"fontWeight":"bold","color":"#2c3e50","lineBreak":"\n","lineHeight":25,"dy":-10.5,"align":"center","baseline":"middle"},"encoding":{"text":{"field":"t"}}},
   {"width":363,"height":115,"view":{"stroke":"#e4e7ea"},
    "encoding":{"x":{"field":"s","type":"nominal","title":null,"scale":{"domain":["Spring","Summer","Autumn","Winter"],"paddingInner":0.514,"paddingOuter":0.357},"axis":{"labels":false,"ticks":false,"bandPosition":0.5}}},
    "layer":[
     {"data":{"name":"box"},"transform":[{"filter":"datum.p=='cBOD5'"}],"mark":{"type":"bar","width":58,"opacity":0.6},
      "encoding":{"y":{"field":"q1","type":"quantitative","title":null,"scale":{"domain":[-0.2,37.1],"nice":false,"zero":false},
        "axis":{"values":[0,5,10,15,20,25,30,35],"tickCount":20,"labelOverlap":false,"labelSeparation":-200,"labelExpr":"datum.value % 10 == 5 ? '' : format(datum.value,'~g')","labelFontSize":{"condition":{"test":"datum.value % 10 == 5","value":0},"value":17},"gridColor":{"condition":{"test":"datum.value % 10 == 5","value":"#f5f6f7"},"value":"#e9ebee"},"tickOpacity":{"condition":{"test":"datum.value % 10 == 5","value":0},"value":1}}},
       "y2":{"field":"q3"},
       "color":{"field":"s","type":"nominal","scale":{"domain":["Spring","Summer","Autumn","Winter"],"range":["#2E8B57","#FF6347","#DAA520","#4682B4"]},
        "legend":{"orient":"none","legendX":293,"legendY":768,"direction":"horizontal","title":"Season","titleOrient":"left","titleFontSize":24,"titleFontWeight":"bold","titleColor":"#000000","titlePadding":23,"labelFontSize":21.5,"labelColor":"#000000","labelOffset":20,"columnPadding":23,"symbolType":"M-1,-0.64H1V-0.04H-1Z M-1,0.04H1V0.64H-1Z","symbolSize":2500,"symbolOpacity":0.6,"symbolStrokeWidth":0}}}},
     {"data":{"name":"box"},"transform":[{"filter":"datum.p=='cBOD5'"}],"mark":{"type":"tick","orient":"horizontal","size":58,"thickness":3,"color":"white","opacity":1},
      "encoding":{"y":{"field":"md","type":"quantitative","title":null,"scale":{"domain":[-0.2,37.1],"nice":false,"zero":false}}}},
     {"data":{"name":"box"},"transform":[{"filter":"datum.p=='cBOD5'"}],"mark":{"type":"bar","width":58,"filled":false,"strokeWidth":1,"strokeOpacity":0.5},
      "encoding":{"y":{"field":"q1","type":"quantitative","title":null,"scale":{"domain":[-0.2,37.1],"nice":false,"zero":false}},"y2":{"field":"q3"},"color":{"field":"s","type":"nominal","scale":{"domain":["Spring","Summer","Autumn","Winter"],"range":["#2E8B57","#FF6347","#DAA520","#4682B4"]},"legend":null}}},
     {"data":{"name":"out"},"transform":[{"filter":"datum.p=='cBOD5'"}],"mark":{"type":"point","filled":true,"size":60,"color":"#4d4d4d","opacity":0.75},
      "encoding":{"y":{"field":"v","type":"quantitative","title":null,"scale":{"domain":[-0.2,37.1],"nice":false,"zero":false}}}},
     {"data":{"name":"pts"},"transform":[{"filter":"datum.p=='cBOD5'"},{"window":[{"op":"row_number","as":"i"}],"groupby":["s"]}],"mark":{"type":"point","filled":true,"size":36,"opacity":0.3},
      "encoding":{"y":{"field":"v","type":"quantitative","title":null,"scale":{"domain":[-0.2,37.1],"nice":false,"zero":false}},"xOffset":{"field":"i","type":"nominal"},"color":{"field":"s","type":"nominal","scale":{"domain":["Spring","Summer","Autumn","Winter"],"range":["#2E8B57","#FF6347","#DAA520","#4682B4"]},"legend":null}}},
     {"data":{"name":"pts"},"transform":[{"filter":"datum.p=='cBOD5'"},{"window":[{"op":"row_number","as":"i"}],"groupby":["s"]}],"mark":{"type":"point","filled":false,"size":36,"strokeWidth":1,"opacity":0.4},
      "encoding":{"y":{"field":"v","type":"quantitative","title":null,"scale":{"domain":[-0.2,37.1],"nice":false,"zero":false}},"xOffset":{"field":"i","type":"nominal"},"color":{"field":"s","type":"nominal","scale":{"domain":["Spring","Summer","Autumn","Winter"],"range":["#2E8B57","#FF6347","#DAA520","#4682B4"]},"legend":null}}}
    ]}
  ]},
  {"spacing": 0, "vconcat": [
   {"width":363,"height":72,"view":{"fill":"#f4f5f7","stroke":"#e3e6e9"},"data":{"name":"strips"},"transform":[{"filter":"datum.p=='NHx-N'"}],"mark":{"type":"text","fontSize":22,"fontWeight":"bold","color":"#2c3e50","lineBreak":"\n","lineHeight":25,"dy":-10.5,"align":"center","baseline":"middle"},"encoding":{"text":{"field":"t"}}},
   {"width":363,"height":115,"view":{"stroke":"#e4e7ea"},
    "encoding":{"x":{"field":"s","type":"nominal","title":null,"scale":{"domain":["Spring","Summer","Autumn","Winter"],"paddingInner":0.514,"paddingOuter":0.357},"axis":{"labels":false,"ticks":false,"bandPosition":0.5}}},
    "layer":[
     {"data":{"name":"box"},"transform":[{"filter":"datum.p=='NHx-N'"}],"mark":{"type":"bar","width":58,"opacity":0.6},
      "encoding":{"y":{"field":"q1","type":"quantitative","title":null,"scale":{"domain":[-0.3,27.4],"nice":false,"zero":false},
        "axis":{"values":[0,5,10,15,20,25],"tickCount":20,"labelOverlap":false,"labelSeparation":-200,"labelExpr":"datum.value % 10 == 5 ? '' : format(datum.value,'~g')","labelFontSize":{"condition":{"test":"datum.value % 10 == 5","value":0},"value":17},"gridColor":{"condition":{"test":"datum.value % 10 == 5","value":"#f5f6f7"},"value":"#e9ebee"},"tickOpacity":{"condition":{"test":"datum.value % 10 == 5","value":0},"value":1}}},
       "y2":{"field":"q3"},
       "color":{"field":"s","type":"nominal","scale":{"domain":["Spring","Summer","Autumn","Winter"],"range":["#2E8B57","#FF6347","#DAA520","#4682B4"]},"legend":null}}},
     {"data":{"name":"box"},"transform":[{"filter":"datum.p=='NHx-N'"}],"mark":{"type":"tick","orient":"horizontal","size":58,"thickness":3,"color":"white","opacity":1},
      "encoding":{"y":{"field":"md","type":"quantitative","title":null,"scale":{"domain":[-0.3,27.4],"nice":false,"zero":false}}}},
     {"data":{"name":"box"},"transform":[{"filter":"datum.p=='NHx-N'"}],"mark":{"type":"bar","width":58,"filled":false,"strokeWidth":1,"strokeOpacity":0.5},
      "encoding":{"y":{"field":"q1","type":"quantitative","title":null,"scale":{"domain":[-0.3,27.4],"nice":false,"zero":false}},"y2":{"field":"q3"},"color":{"field":"s","type":"nominal","scale":{"domain":["Spring","Summer","Autumn","Winter"],"range":["#2E8B57","#FF6347","#DAA520","#4682B4"]},"legend":null}}},
     {"data":{"name":"out"},"transform":[{"filter":"datum.p=='NHx-N'"}],"mark":{"type":"point","filled":true,"size":60,"color":"#4d4d4d","opacity":0.75},
      "encoding":{"y":{"field":"v","type":"quantitative","title":null,"scale":{"domain":[-0.3,27.4],"nice":false,"zero":false}}}},
     {"data":{"name":"pts"},"transform":[{"filter":"datum.p=='NHx-N'"},{"window":[{"op":"row_number","as":"i"}],"groupby":["s"]}],"mark":{"type":"point","filled":true,"size":36,"opacity":0.3},
      "encoding":{"y":{"field":"v","type":"quantitative","title":null,"scale":{"domain":[-0.3,27.4],"nice":false,"zero":false}},"xOffset":{"field":"i","type":"nominal"},"color":{"field":"s","type":"nominal","scale":{"domain":["Spring","Summer","Autumn","Winter"],"range":["#2E8B57","#FF6347","#DAA520","#4682B4"]},"legend":null}}},
     {"data":{"name":"pts"},"transform":[{"filter":"datum.p=='NHx-N'"},{"window":[{"op":"row_number","as":"i"}],"groupby":["s"]}],"mark":{"type":"point","filled":false,"size":36,"strokeWidth":1,"opacity":0.4},
      "encoding":{"y":{"field":"v","type":"quantitative","title":null,"scale":{"domain":[-0.3,27.4],"nice":false,"zero":false}},"xOffset":{"field":"i","type":"nominal"},"color":{"field":"s","type":"nominal","scale":{"domain":["Spring","Summer","Autumn","Winter"],"range":["#2E8B57","#FF6347","#DAA520","#4682B4"]},"legend":null}}}
    ]}
  ]},
  {"spacing": 0, "vconcat": [
   {"width":363,"height":72,"view":{"fill":"#f4f5f7","stroke":"#e3e6e9"},"data":{"name":"strips"},"transform":[{"filter":"datum.p=='TIN'"}],"mark":{"type":"text","fontSize":22,"fontWeight":"bold","color":"#2c3e50","lineBreak":"\n","lineHeight":25,"dy":-10.5,"align":"center","baseline":"middle"},"encoding":{"text":{"field":"t"}}},
   {"width":363,"height":115,"view":{"stroke":"#e4e7ea"},
    "encoding":{"x":{"field":"s","type":"nominal","title":null,"scale":{"domain":["Spring","Summer","Autumn","Winter"],"paddingInner":0.514,"paddingOuter":0.357},"axis":{"bandPosition":0.5,"labelAngle":-30,"labelAlign":"right","labelBaseline":"top","labelFontSize":19,"labelFontWeight":"bold","labelPadding":15,"labelOffset":-3,"labelOverlap":false,"labelBound":false}}},
    "layer":[
     {"data":{"name":"box"},"transform":[{"filter":"datum.p=='TIN'"}],"mark":{"type":"bar","width":58,"opacity":0.6},
      "encoding":{"y":{"field":"q1","type":"quantitative","title":null,"scale":{"domain":[0.5,32.6],"nice":false,"zero":false},
        "axis":{"values":[5,10,15,20,25,30],"tickCount":20,"labelOverlap":false,"labelSeparation":-200,"labelExpr":"datum.value % 10 == 5 ? '' : format(datum.value,'~g')","labelFontSize":{"condition":{"test":"datum.value % 10 == 5","value":0},"value":17},"gridColor":{"condition":{"test":"datum.value % 10 == 5","value":"#f5f6f7"},"value":"#e9ebee"},"tickOpacity":{"condition":{"test":"datum.value % 10 == 5","value":0},"value":1}}},
       "y2":{"field":"q3"},
       "color":{"field":"s","type":"nominal","scale":{"domain":["Spring","Summer","Autumn","Winter"],"range":["#2E8B57","#FF6347","#DAA520","#4682B4"]},"legend":null}}},
     {"data":{"name":"box"},"transform":[{"filter":"datum.p=='TIN'"}],"mark":{"type":"tick","orient":"horizontal","size":58,"thickness":3,"color":"white","opacity":1},
      "encoding":{"y":{"field":"md","type":"quantitative","title":null,"scale":{"domain":[0.5,32.6],"nice":false,"zero":false}}}},
     {"data":{"name":"box"},"transform":[{"filter":"datum.p=='TIN'"}],"mark":{"type":"bar","width":58,"filled":false,"strokeWidth":1,"strokeOpacity":0.5},
      "encoding":{"y":{"field":"q1","type":"quantitative","title":null,"scale":{"domain":[0.5,32.6],"nice":false,"zero":false}},"y2":{"field":"q3"},"color":{"field":"s","type":"nominal","scale":{"domain":["Spring","Summer","Autumn","Winter"],"range":["#2E8B57","#FF6347","#DAA520","#4682B4"]},"legend":null}}},
     {"data":{"name":"out"},"transform":[{"filter":"datum.p=='TIN'"}],"mark":{"type":"point","filled":true,"size":60,"color":"#4d4d4d","opacity":0.75},
      "encoding":{"y":{"field":"v","type":"quantitative","title":null,"scale":{"domain":[0.5,32.6],"nice":false,"zero":false}}}},
     {"data":{"name":"pts"},"transform":[{"filter":"datum.p=='TIN'"},{"window":[{"op":"row_number","as":"i"}],"groupby":["s"]}],"mark":{"type":"point","filled":true,"size":36,"opacity":0.3},
      "encoding":{"y":{"field":"v","type":"quantitative","title":null,"scale":{"domain":[0.5,32.6],"nice":false,"zero":false}},"xOffset":{"field":"i","type":"nominal"},"color":{"field":"s","type":"nominal","scale":{"domain":["Spring","Summer","Autumn","Winter"],"range":["#2E8B57","#FF6347","#DAA520","#4682B4"]},"legend":null}}},
     {"data":{"name":"pts"},"transform":[{"filter":"datum.p=='TIN'"},{"window":[{"op":"row_number","as":"i"}],"groupby":["s"]}],"mark":{"type":"point","filled":false,"size":36,"strokeWidth":1,"opacity":0.4},
      "encoding":{"y":{"field":"v","type":"quantitative","title":null,"scale":{"domain":[0.5,32.6],"nice":false,"zero":false}},"xOffset":{"field":"i","type":"nominal"},"color":{"field":"s","type":"nominal","scale":{"domain":["Spring","Summer","Autumn","Winter"],"range":["#2E8B57","#FF6347","#DAA520","#4682B4"]},"legend":null}}}
    ]}
  ]}
 ]},
 {"spacing": 10, "vconcat": [
  {"spacing": 0, "vconcat": [
   {"width":363,"height":72,"view":{"fill":"#f4f5f7","stroke":"#e3e6e9"},"data":{"name":"strips"},"transform":[{"filter":"datum.p=='DO'"}],"mark":{"type":"text","fontSize":22,"fontWeight":"bold","color":"#2c3e50","lineBreak":"\n","lineHeight":25,"dy":-10.5,"align":"center","baseline":"middle"},"encoding":{"text":{"field":"t"}}},
   {"width":363,"height":115,"view":{"stroke":"#e4e7ea"},
    "encoding":{"x":{"field":"s","type":"nominal","title":null,"scale":{"domain":["Spring","Summer","Autumn","Winter"],"paddingInner":0.514,"paddingOuter":0.357},"axis":{"labels":false,"ticks":false,"bandPosition":0.5}}},
    "layer":[
     {"data":{"name":"box"},"transform":[{"filter":"datum.p=='DO'"}],"mark":{"type":"bar","width":58,"opacity":0.6},
      "encoding":{"y":{"field":"q1","type":"quantitative","title":null,"scale":{"domain":[1.23,7.86],"nice":false,"zero":false},
        "axis":{"values":[2,3,4,5,6,7],"tickCount":20,"labelOverlap":false,"labelSeparation":-200,"labelExpr":"datum.value % 2 == 1 ? '' : format(datum.value,'~g')","labelFontSize":{"condition":{"test":"datum.value % 2 == 1","value":0},"value":17},"gridColor":{"condition":{"test":"datum.value % 2 == 1","value":"#f5f6f7"},"value":"#e9ebee"},"tickOpacity":{"condition":{"test":"datum.value % 2 == 1","value":0},"value":1}}},
       "y2":{"field":"q3"},
       "color":{"field":"s","type":"nominal","scale":{"domain":["Spring","Summer","Autumn","Winter"],"range":["#2E8B57","#FF6347","#DAA520","#4682B4"]},"legend":null}}},
     {"data":{"name":"box"},"transform":[{"filter":"datum.p=='DO'"}],"mark":{"type":"tick","orient":"horizontal","size":58,"thickness":3,"color":"white","opacity":1},
      "encoding":{"y":{"field":"md","type":"quantitative","title":null,"scale":{"domain":[1.23,7.86],"nice":false,"zero":false}}}},
     {"data":{"name":"box"},"transform":[{"filter":"datum.p=='DO'"}],"mark":{"type":"bar","width":58,"filled":false,"strokeWidth":1,"strokeOpacity":0.5},
      "encoding":{"y":{"field":"q1","type":"quantitative","title":null,"scale":{"domain":[1.23,7.86],"nice":false,"zero":false}},"y2":{"field":"q3"},"color":{"field":"s","type":"nominal","scale":{"domain":["Spring","Summer","Autumn","Winter"],"range":["#2E8B57","#FF6347","#DAA520","#4682B4"]},"legend":null}}},
     {"data":{"name":"out"},"transform":[{"filter":"datum.p=='DO'"}],"mark":{"type":"point","filled":true,"size":60,"color":"#4d4d4d","opacity":0.75},
      "encoding":{"y":{"field":"v","type":"quantitative","title":null,"scale":{"domain":[1.23,7.86],"nice":false,"zero":false}}}},
     {"data":{"name":"pts"},"transform":[{"filter":"datum.p=='DO'"},{"window":[{"op":"row_number","as":"i"}],"groupby":["s"]}],"mark":{"type":"point","filled":true,"size":36,"opacity":0.3},
      "encoding":{"y":{"field":"v","type":"quantitative","title":null,"scale":{"domain":[1.23,7.86],"nice":false,"zero":false}},"xOffset":{"field":"i","type":"nominal"},"color":{"field":"s","type":"nominal","scale":{"domain":["Spring","Summer","Autumn","Winter"],"range":["#2E8B57","#FF6347","#DAA520","#4682B4"]},"legend":null}}},
     {"data":{"name":"pts"},"transform":[{"filter":"datum.p=='DO'"},{"window":[{"op":"row_number","as":"i"}],"groupby":["s"]}],"mark":{"type":"point","filled":false,"size":36,"strokeWidth":1,"opacity":0.4},
      "encoding":{"y":{"field":"v","type":"quantitative","title":null,"scale":{"domain":[1.23,7.86],"nice":false,"zero":false}},"xOffset":{"field":"i","type":"nominal"},"color":{"field":"s","type":"nominal","scale":{"domain":["Spring","Summer","Autumn","Winter"],"range":["#2E8B57","#FF6347","#DAA520","#4682B4"]},"legend":null}}}
    ]}
  ]},
  {"spacing": 0, "vconcat": [
   {"width":363,"height":72,"view":{"fill":"#f4f5f7","stroke":"#e3e6e9"},"data":{"name":"strips"},"transform":[{"filter":"datum.p=='pH'"}],"mark":{"type":"text","fontSize":22,"fontWeight":"bold","color":"#2c3e50","lineBreak":"\n","lineHeight":25,"dy":-10.5,"align":"center","baseline":"middle"},"encoding":{"text":{"field":"t"}}},
   {"width":363,"height":115,"view":{"stroke":"#e4e7ea"},
    "encoding":{"x":{"field":"s","type":"nominal","title":null,"scale":{"domain":["Spring","Summer","Autumn","Winter"],"paddingInner":0.514,"paddingOuter":0.357},"axis":{"labels":false,"ticks":false,"bandPosition":0.5}}},
    "layer":[
     {"data":{"name":"box"},"transform":[{"filter":"datum.p=='pH'"}],"mark":{"type":"bar","width":58,"opacity":0.6},
      "encoding":{"y":{"field":"q1","type":"quantitative","title":null,"scale":{"domain":[6.985,7.975],"nice":false,"zero":false},
        "axis":{"values":[7,7.125,7.25,7.375,7.5,7.625,7.75,7.875],"tickCount":20,"labelOverlap":false,"labelSeparation":-200,"labelExpr":"datum.value == 7.25 ? '7.2' : datum.value == 7.75 ? '7.8' : datum.value % 0.25 > 0 ? '' : format(datum.value,'~g')","labelFontSize":{"condition":{"test":"datum.value % 0.25 > 0","value":0},"value":17},"gridColor":{"condition":{"test":"datum.value % 0.25 > 0","value":"#f5f6f7"},"value":"#e9ebee"},"tickOpacity":{"condition":{"test":"datum.value % 0.25 > 0","value":0},"value":1}}},
       "y2":{"field":"q3"},
       "color":{"field":"s","type":"nominal","scale":{"domain":["Spring","Summer","Autumn","Winter"],"range":["#2E8B57","#FF6347","#DAA520","#4682B4"]},"legend":null}}},
     {"data":{"name":"box"},"transform":[{"filter":"datum.p=='pH'"}],"mark":{"type":"tick","orient":"horizontal","size":58,"thickness":3,"color":"white","opacity":1},
      "encoding":{"y":{"field":"md","type":"quantitative","title":null,"scale":{"domain":[6.985,7.975],"nice":false,"zero":false}}}},
     {"data":{"name":"box"},"transform":[{"filter":"datum.p=='pH'"}],"mark":{"type":"bar","width":58,"filled":false,"strokeWidth":1,"strokeOpacity":0.5},
      "encoding":{"y":{"field":"q1","type":"quantitative","title":null,"scale":{"domain":[6.985,7.975],"nice":false,"zero":false}},"y2":{"field":"q3"},"color":{"field":"s","type":"nominal","scale":{"domain":["Spring","Summer","Autumn","Winter"],"range":["#2E8B57","#FF6347","#DAA520","#4682B4"]},"legend":null}}},
     {"data":{"name":"out"},"transform":[{"filter":"datum.p=='pH'"}],"mark":{"type":"point","filled":true,"size":60,"color":"#4d4d4d","opacity":0.75},
      "encoding":{"y":{"field":"v","type":"quantitative","title":null,"scale":{"domain":[6.985,7.975],"nice":false,"zero":false}}}},
     {"data":{"name":"pts"},"transform":[{"filter":"datum.p=='pH'"},{"window":[{"op":"row_number","as":"i"}],"groupby":["s"]}],"mark":{"type":"point","filled":true,"size":36,"opacity":0.3},
      "encoding":{"y":{"field":"v","type":"quantitative","title":null,"scale":{"domain":[6.985,7.975],"nice":false,"zero":false}},"xOffset":{"field":"i","type":"nominal"},"color":{"field":"s","type":"nominal","scale":{"domain":["Spring","Summer","Autumn","Winter"],"range":["#2E8B57","#FF6347","#DAA520","#4682B4"]},"legend":null}}},
     {"data":{"name":"pts"},"transform":[{"filter":"datum.p=='pH'"},{"window":[{"op":"row_number","as":"i"}],"groupby":["s"]}],"mark":{"type":"point","filled":false,"size":36,"strokeWidth":1,"opacity":0.4},
      "encoding":{"y":{"field":"v","type":"quantitative","title":null,"scale":{"domain":[6.985,7.975],"nice":false,"zero":false}},"xOffset":{"field":"i","type":"nominal"},"color":{"field":"s","type":"nominal","scale":{"domain":["Spring","Summer","Autumn","Winter"],"range":["#2E8B57","#FF6347","#DAA520","#4682B4"]},"legend":null}}}
    ]}
  ]},
  {"spacing": 0, "vconcat": [
   {"width":363,"height":72,"view":{"fill":"#f4f5f7","stroke":"#e3e6e9"},"data":{"name":"strips"},"transform":[{"filter":"datum.p=='TP'"}],"mark":{"type":"text","fontSize":22,"fontWeight":"bold","color":"#2c3e50","lineBreak":"\n","lineHeight":25,"dy":-10.5,"align":"center","baseline":"middle"},"encoding":{"text":{"field":"t"}}},
   {"width":363,"height":115,"view":{"stroke":"#e4e7ea"},
    "encoding":{"x":{"field":"s","type":"nominal","title":"Season","scale":{"domain":["Spring","Summer","Autumn","Winter"],"paddingInner":0.514,"paddingOuter":0.357},"axis":{"bandPosition":0.5,"labelAngle":-30,"labelAlign":"right","labelBaseline":"top","labelFontSize":19,"labelFontWeight":"bold","labelPadding":15,"labelOffset":-3,"labelOverlap":false,"labelBound":false,"titlePadding":11,"titleFontSize":26}}},
    "layer":[
     {"data":{"name":"box"},"transform":[{"filter":"datum.p=='TP'"}],"mark":{"type":"bar","width":58,"opacity":0.6},
      "encoding":{"y":{"field":"q1","type":"quantitative","title":null,"scale":{"domain":[2.09,7.67],"nice":false,"zero":false},
        "axis":{"values":[2.5,3,3.5,4,4.5,5,5.5,6,6.5,7,7.5],"tickCount":20,"labelOverlap":false,"labelSeparation":-200,"labelExpr":"datum.value % 1 > 0 ? '' : format(datum.value,'~g')","labelFontSize":{"condition":{"test":"datum.value % 1 > 0","value":0},"value":17},"gridColor":{"condition":{"test":"datum.value % 1 > 0","value":"#f5f6f7"},"value":"#e9ebee"},"tickOpacity":{"condition":{"test":"datum.value % 1 > 0","value":0},"value":1}}},
       "y2":{"field":"q3"},
       "color":{"field":"s","type":"nominal","scale":{"domain":["Spring","Summer","Autumn","Winter"],"range":["#2E8B57","#FF6347","#DAA520","#4682B4"]},"legend":null}}},
     {"data":{"name":"box"},"transform":[{"filter":"datum.p=='TP'"}],"mark":{"type":"tick","orient":"horizontal","size":58,"thickness":3,"color":"white","opacity":1},
      "encoding":{"y":{"field":"md","type":"quantitative","title":null,"scale":{"domain":[2.09,7.67],"nice":false,"zero":false}}}},
     {"data":{"name":"box"},"transform":[{"filter":"datum.p=='TP'"}],"mark":{"type":"bar","width":58,"filled":false,"strokeWidth":1,"strokeOpacity":0.5},
      "encoding":{"y":{"field":"q1","type":"quantitative","title":null,"scale":{"domain":[2.09,7.67],"nice":false,"zero":false}},"y2":{"field":"q3"},"color":{"field":"s","type":"nominal","scale":{"domain":["Spring","Summer","Autumn","Winter"],"range":["#2E8B57","#FF6347","#DAA520","#4682B4"]},"legend":null}}},
     {"data":{"name":"out"},"transform":[{"filter":"datum.p=='TP'"}],"mark":{"type":"point","filled":true,"size":60,"color":"#4d4d4d","opacity":0.75},
      "encoding":{"y":{"field":"v","type":"quantitative","title":null,"scale":{"domain":[2.09,7.67],"nice":false,"zero":false}}}},
     {"data":{"name":"pts"},"transform":[{"filter":"datum.p=='TP'"},{"window":[{"op":"row_number","as":"i"}],"groupby":["s"]}],"mark":{"type":"point","filled":true,"size":36,"opacity":0.3},
      "encoding":{"y":{"field":"v","type":"quantitative","title":null,"scale":{"domain":[2.09,7.67],"nice":false,"zero":false}},"xOffset":{"field":"i","type":"nominal"},"color":{"field":"s","type":"nominal","scale":{"domain":["Spring","Summer","Autumn","Winter"],"range":["#2E8B57","#FF6347","#DAA520","#4682B4"]},"legend":null}}},
     {"data":{"name":"pts"},"transform":[{"filter":"datum.p=='TP'"},{"window":[{"op":"row_number","as":"i"}],"groupby":["s"]}],"mark":{"type":"point","filled":false,"size":36,"strokeWidth":1,"opacity":0.4},
      "encoding":{"y":{"field":"v","type":"quantitative","title":null,"scale":{"domain":[2.09,7.67],"nice":false,"zero":false}},"xOffset":{"field":"i","type":"nominal"},"color":{"field":"s","type":"nominal","scale":{"domain":["Spring","Summer","Autumn","Winter"],"range":["#2E8B57","#FF6347","#DAA520","#4682B4"]},"legend":null}}}
    ]}
  ]}
 ]},
 {"spacing": 10, "vconcat": [
  {"spacing": 0, "vconcat": [
   {"width":363,"height":72,"view":{"fill":"#f4f5f7","stroke":"#e3e6e9"},"data":{"name":"strips"},"transform":[{"filter":"datum.p=='DRP'"}],"mark":{"type":"text","fontSize":22,"fontWeight":"bold","color":"#2c3e50","lineBreak":"\n","lineHeight":25,"dy":-10.5,"align":"center","baseline":"middle"},"encoding":{"text":{"field":"t"}}},
   {"width":363,"height":115,"view":{"stroke":"#e4e7ea"},
    "encoding":{"x":{"field":"s","type":"nominal","title":null,"scale":{"domain":["Spring","Summer","Autumn","Winter"],"paddingInner":0.514,"paddingOuter":0.357},"axis":{"labels":false,"ticks":false,"bandPosition":0.5}}},
    "layer":[
     {"data":{"name":"box"},"transform":[{"filter":"datum.p=='DRP'"}],"mark":{"type":"bar","width":58,"opacity":0.6},
      "encoding":{"y":{"field":"q1","type":"quantitative","title":null,"scale":{"domain":[-0.12,6.6],"nice":false,"zero":false},
        "axis":{"values":[0,1,2,3,4,5,6],"tickCount":20,"labelOverlap":false,"labelSeparation":-200,"labelExpr":"datum.value % 2 == 1 ? '' : format(datum.value,'~g')","labelFontSize":{"condition":{"test":"datum.value % 2 == 1","value":0},"value":17},"gridColor":{"condition":{"test":"datum.value % 2 == 1","value":"#f5f6f7"},"value":"#e9ebee"},"tickOpacity":{"condition":{"test":"datum.value % 2 == 1","value":0},"value":1}}},
       "y2":{"field":"q3"},
       "color":{"field":"s","type":"nominal","scale":{"domain":["Spring","Summer","Autumn","Winter"],"range":["#2E8B57","#FF6347","#DAA520","#4682B4"]},"legend":null}}},
     {"data":{"name":"box"},"transform":[{"filter":"datum.p=='DRP'"}],"mark":{"type":"tick","orient":"horizontal","size":58,"thickness":3,"color":"white","opacity":1},
      "encoding":{"y":{"field":"md","type":"quantitative","title":null,"scale":{"domain":[-0.12,6.6],"nice":false,"zero":false}}}},
     {"data":{"name":"box"},"transform":[{"filter":"datum.p=='DRP'"}],"mark":{"type":"bar","width":58,"filled":false,"strokeWidth":1,"strokeOpacity":0.5},
      "encoding":{"y":{"field":"q1","type":"quantitative","title":null,"scale":{"domain":[-0.12,6.6],"nice":false,"zero":false}},"y2":{"field":"q3"},"color":{"field":"s","type":"nominal","scale":{"domain":["Spring","Summer","Autumn","Winter"],"range":["#2E8B57","#FF6347","#DAA520","#4682B4"]},"legend":null}}},
     {"data":{"name":"out"},"transform":[{"filter":"datum.p=='DRP'"}],"mark":{"type":"point","filled":true,"size":60,"color":"#4d4d4d","opacity":0.75},
      "encoding":{"y":{"field":"v","type":"quantitative","title":null,"scale":{"domain":[-0.12,6.6],"nice":false,"zero":false}}}},
     {"data":{"name":"pts"},"transform":[{"filter":"datum.p=='DRP'"},{"window":[{"op":"row_number","as":"i"}],"groupby":["s"]}],"mark":{"type":"point","filled":true,"size":36,"opacity":0.3},
      "encoding":{"y":{"field":"v","type":"quantitative","title":null,"scale":{"domain":[-0.12,6.6],"nice":false,"zero":false}},"xOffset":{"field":"i","type":"nominal"},"color":{"field":"s","type":"nominal","scale":{"domain":["Spring","Summer","Autumn","Winter"],"range":["#2E8B57","#FF6347","#DAA520","#4682B4"]},"legend":null}}},
     {"data":{"name":"pts"},"transform":[{"filter":"datum.p=='DRP'"},{"window":[{"op":"row_number","as":"i"}],"groupby":["s"]}],"mark":{"type":"point","filled":false,"size":36,"strokeWidth":1,"opacity":0.4},
      "encoding":{"y":{"field":"v","type":"quantitative","title":null,"scale":{"domain":[-0.12,6.6],"nice":false,"zero":false}},"xOffset":{"field":"i","type":"nominal"},"color":{"field":"s","type":"nominal","scale":{"domain":["Spring","Summer","Autumn","Winter"],"range":["#2E8B57","#FF6347","#DAA520","#4682B4"]},"legend":null}}}
    ]}
  ]},
  {"spacing": 0, "vconcat": [
   {"width":363,"height":72,"view":{"fill":"#f4f5f7","stroke":"#e3e6e9"},"data":{"name":"strips"},"transform":[{"filter":"datum.p=='Temp'"}],"mark":{"type":"text","fontSize":22,"fontWeight":"bold","color":"#2c3e50","lineBreak":"\n","lineHeight":25,"dy":-10.5,"align":"center","baseline":"middle"},"encoding":{"text":{"field":"t"}}},
   {"width":363,"height":115,"view":{"stroke":"#e4e7ea"},
    "encoding":{"x":{"field":"s","type":"nominal","title":null,"scale":{"domain":["Spring","Summer","Autumn","Winter"],"paddingInner":0.514,"paddingOuter":0.357},"axis":{"bandPosition":0.5,"labelAngle":-30,"labelAlign":"right","labelBaseline":"top","labelFontSize":19,"labelFontWeight":"bold","labelPadding":15,"labelOffset":-3,"labelOverlap":false,"labelBound":false}}},
    "layer":[
     {"data":{"name":"box"},"transform":[{"filter":"datum.p=='Temp'"}],"mark":{"type":"bar","width":58,"opacity":0.6},
      "encoding":{"y":{"field":"q1","type":"quantitative","title":null,"scale":{"domain":[11.35,26.2],"nice":false,"zero":false},
        "axis":{"values":[12.5,15,17.5,20,22.5,25],"tickCount":20,"labelOverlap":false,"labelSeparation":-200,"labelExpr":"datum.value % 5 > 0 ? '' : format(datum.value,'~g')","labelFontSize":{"condition":{"test":"datum.value % 5 > 0","value":0},"value":17},"gridColor":{"condition":{"test":"datum.value % 5 > 0","value":"#f5f6f7"},"value":"#e9ebee"},"tickOpacity":{"condition":{"test":"datum.value % 5 > 0","value":0},"value":1}}},
       "y2":{"field":"q3"},
       "color":{"field":"s","type":"nominal","scale":{"domain":["Spring","Summer","Autumn","Winter"],"range":["#2E8B57","#FF6347","#DAA520","#4682B4"]},"legend":null}}},
     {"data":{"name":"box"},"transform":[{"filter":"datum.p=='Temp'"}],"mark":{"type":"tick","orient":"horizontal","size":58,"thickness":3,"color":"white","opacity":1},
      "encoding":{"y":{"field":"md","type":"quantitative","title":null,"scale":{"domain":[11.35,26.2],"nice":false,"zero":false}}}},
     {"data":{"name":"box"},"transform":[{"filter":"datum.p=='Temp'"}],"mark":{"type":"bar","width":58,"filled":false,"strokeWidth":1,"strokeOpacity":0.5},
      "encoding":{"y":{"field":"q1","type":"quantitative","title":null,"scale":{"domain":[11.35,26.2],"nice":false,"zero":false}},"y2":{"field":"q3"},"color":{"field":"s","type":"nominal","scale":{"domain":["Spring","Summer","Autumn","Winter"],"range":["#2E8B57","#FF6347","#DAA520","#4682B4"]},"legend":null}}},
     {"data":{"name":"out"},"transform":[{"filter":"datum.p=='Temp'"}],"mark":{"type":"point","filled":true,"size":60,"color":"#4d4d4d","opacity":0.75},
      "encoding":{"y":{"field":"v","type":"quantitative","title":null,"scale":{"domain":[11.35,26.2],"nice":false,"zero":false}}}},
     {"data":{"name":"pts"},"transform":[{"filter":"datum.p=='Temp'"},{"window":[{"op":"row_number","as":"i"}],"groupby":["s"]}],"mark":{"type":"point","filled":true,"size":36,"opacity":0.3},
      "encoding":{"y":{"field":"v","type":"quantitative","title":null,"scale":{"domain":[11.35,26.2],"nice":false,"zero":false}},"xOffset":{"field":"i","type":"nominal"},"color":{"field":"s","type":"nominal","scale":{"domain":["Spring","Summer","Autumn","Winter"],"range":["#2E8B57","#FF6347","#DAA520","#4682B4"]},"legend":null}}},
     {"data":{"name":"pts"},"transform":[{"filter":"datum.p=='Temp'"},{"window":[{"op":"row_number","as":"i"}],"groupby":["s"]}],"mark":{"type":"point","filled":false,"size":36,"strokeWidth":1,"opacity":0.4},
      "encoding":{"y":{"field":"v","type":"quantitative","title":null,"scale":{"domain":[11.35,26.2],"nice":false,"zero":false}},"xOffset":{"field":"i","type":"nominal"},"color":{"field":"s","type":"nominal","scale":{"domain":["Spring","Summer","Autumn","Winter"],"range":["#2E8B57","#FF6347","#DAA520","#4682B4"]},"legend":null}}}
    ]}
  ]}
 ]}
]}
],
"config": {
 "font": "Liberation Sans",
 "axis": {"labelColor":"#2c3e50","labelFontSize":17,"domainColor":"#c3c8ce","tickColor":"#c3c8ce","gridColor":"#e9ebee","tickSize":5,"titleColor":"#2c3e50","titleFontSize":25,"titleFontWeight":"bold","labelOverlap":false},
 "axisY": {"labelPadding": 8, "labelOverlap": false, "labelSeparation": -200, "tickCount": 20}
}
}
